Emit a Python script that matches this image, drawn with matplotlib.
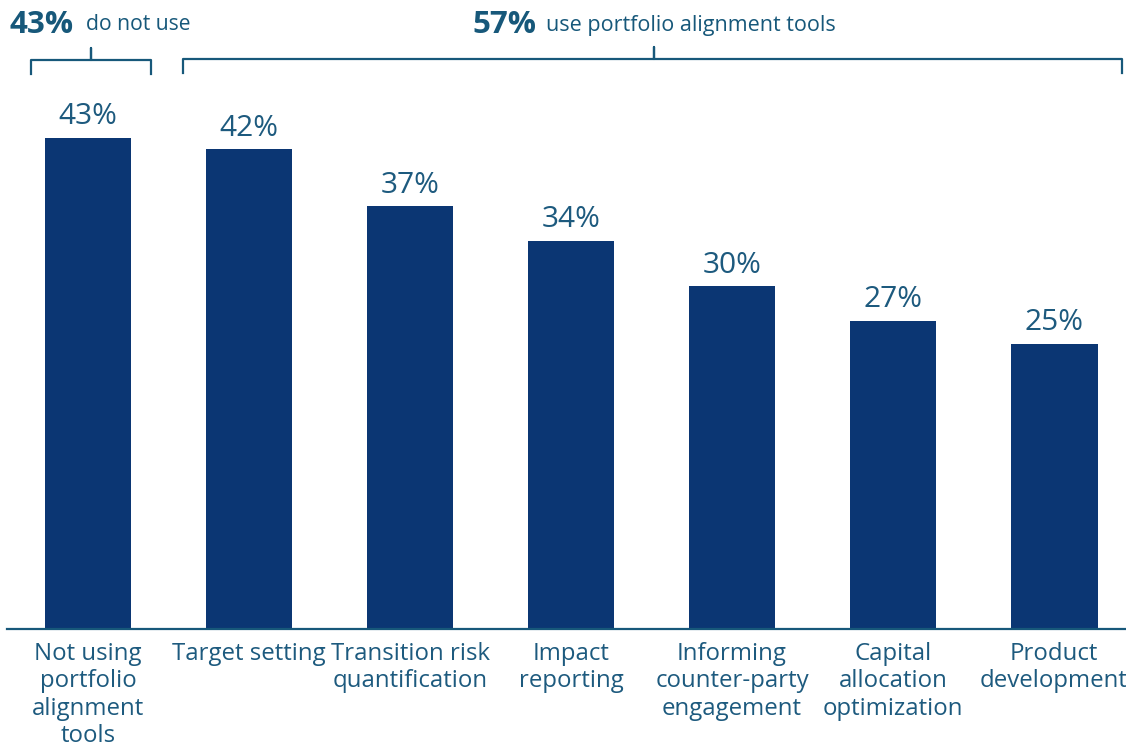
import matplotlib
matplotlib.use("Agg")
import matplotlib.pyplot as plt

categories = ["Not using\nportfolio\nalignment\ntools", "Target setting",
              "Transition risk\nquantification", "Impact\nreporting",
              "Informing\ncounter-party\nengagement", "Capital\nallocation\noptimization",
              "Product\ndevelopment"]
shares = [43, 42, 37, 34, 30, 27, 25]
not_using = 43
using = 57

bar_col = '#0b3673'
txt_col = '#1d5a7e'
head_col = '#17587a'

plt.rcParams['font.family'] = ['Open Sans', 'DejaVu Sans']

fig = plt.figure(figsize=(11.26, 7.48), dpi=100)
ax = fig.add_axes([7/1126, 119/748, 1 - 7/1126, 629/748])

x = list(range(len(categories)))
ax.bar(x, shares, width=0.54, color=bar_col)
for xi, v in zip(x, shares):
    ax.text(xi, v + 0.6, f'{v}%', ha='center', va='bottom', fontsize=21.5, color=txt_col)

ax.set_xlim(-0.503, 6.447)
ax.set_ylim(0, 55.08)
ax.set_xticks(x)
ax.set_xticklabels(categories, fontsize=17.3, color=txt_col, linespacing=1.2)
ax.tick_params(axis='x', length=0, pad=9)
ax.set_yticks([])
for s in ['top', 'right', 'left']:
    ax.spines[s].set_visible(False)
ax.spines['bottom'].set_color(head_col)
ax.spines['bottom'].set_linewidth(1.6)


def brace(x0, x1, xm, y, drop=1.2, rise=1.05):
    ax.plot([x0, x0, xm, xm, xm, x1, x1],
            [y - drop, y, y, y + rise, y, y, y - drop],
            color=head_col, lw=1.6, clip_on=False, solid_joinstyle='round')


brace(-0.354, 0.391, 0.019, 49.8)
brace(0.59, 6.42, 3.516, 49.9)

# header captions above the braces
hy = 1 - 25/748
ax.annotate(f'{not_using}%', xy=(10/1126, hy), xycoords='figure fraction',
            fontsize=22.5, fontweight='bold', color=head_col, ha='left', va='center')
ax.annotate('do not use', xy=(86/1126, hy), xycoords='figure fraction',
            fontsize=15.2, color=head_col, ha='left', va='center')
ax.annotate(f'{using}%', xy=(472/1126, hy), xycoords='figure fraction',
            fontsize=22.5, fontweight='bold', color=head_col, ha='left', va='center')
ax.annotate('use portfolio alignment tools', xy=(546/1126, hy), xycoords='figure fraction',
            fontsize=15.5, color=head_col, ha='left', va='center')

fig.savefig('out.png', dpi=100)
